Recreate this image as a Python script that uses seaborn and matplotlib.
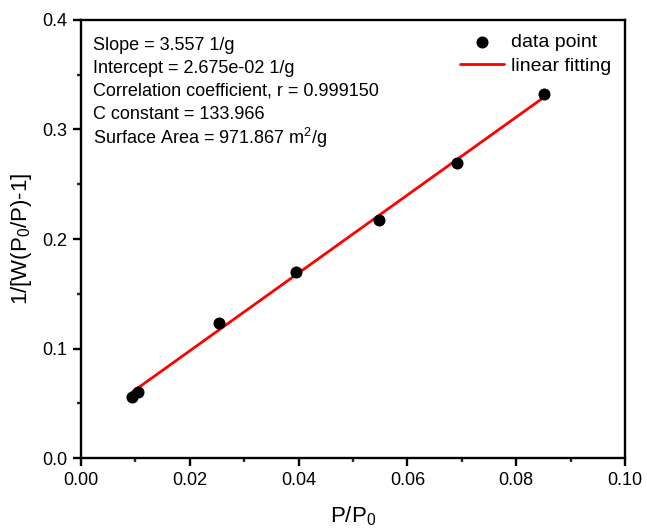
import matplotlib
matplotlib.use("Agg")
import matplotlib.pyplot as plt
import seaborn as sns
import numpy as np
import pandas as pd
from matplotlib.ticker import MultipleLocator

# data
p_rel = [0.00937, 0.0105, 0.0254, 0.0395, 0.0548, 0.0691, 0.0851]
bet_y = [0.0557, 0.0605, 0.1235, 0.1700, 0.2170, 0.2690, 0.3320]
slope = 3.557
intercept = 2.675e-02
info_lines = [
    "Slope = 3.557 1/g",
    "Intercept = 2.675e-02 1/g",
    "Correlation coefficient, r = 0.999150",
    "C constant = 133.966",
    "Surface Area = 971.867 m$^2$/g",
]
x_ticks = [0.00, 0.02, 0.04, 0.06, 0.08, 0.10]
y_ticks = [0.0, 0.1, 0.2, 0.3, 0.4]

sns.set_style("ticks")
plt.rcParams['font.family'] = ['Liberation Sans', 'DejaVu Sans']
plt.rcParams['mathtext.fontset'] = 'custom'
plt.rcParams['mathtext.rm'] = 'Liberation Sans'
plt.rcParams['mathtext.it'] = 'Liberation Sans'
plt.rcParams['text.color'] = 'black'
plt.rcParams['axes.labelcolor'] = 'black'

df = pd.DataFrame({"x": p_rel, "y": bet_y})
xfit = np.array([min(p_rel), max(p_rel)])
fit = pd.DataFrame({"x": xfit, "y": slope * xfit + intercept})

fig = plt.figure(figsize=(6.47, 5.29), dpi=100)
ax = fig.add_axes([0.1252, 0.1342, 0.8408, 0.8280])

sns.scatterplot(data=df, x="x", y="y", ax=ax, color="black", s=75,
                edgecolor="black", linewidth=0, label="data point", zorder=3)
sns.lineplot(data=fit, x="x", y="y", ax=ax, color="#ff0000", linewidth=2.0,
             label="linear fitting", zorder=2)

ax.set_xlim(0, 0.10)
ax.set_ylim(0, 0.4)
ax.set_xticks(x_ticks)
ax.set_xticklabels([f"{v:.2f}" for v in x_ticks])
ax.set_yticks(y_ticks)
ax.set_yticklabels([f"{v:.1f}" for v in y_ticks])
ax.xaxis.set_minor_locator(MultipleLocator(0.01))
ax.yaxis.set_minor_locator(MultipleLocator(0.05))
ax.tick_params(axis="both", which="major", direction="out", length=6, width=1.7,
               labelsize=13, colors="black", pad=4)
ax.tick_params(axis="both", which="minor", direction="out", length=3, width=1.7)
for sp in ax.spines.values():
    sp.set_visible(True)
    sp.set_linewidth(1.7)
    sp.set_color("black")

ax.set_xlabel("P/P$_0$", fontsize=16, labelpad=11)
ax.set_ylabel("1/[W(P$_0$/P)-1]", fontsize=16, labelpad=6)

for i, line in enumerate(info_lines):
    ypx = 44 + 22.75 * i
    ax.text(0.022, 1 - (ypx - 20) / 438, line, transform=ax.transAxes,
            fontsize=13, va="center_baseline", ha="left")

leg = ax.legend(loc="upper right", frameon=False, fontsize=14,
                handlelength=2.3, handletextpad=0.35, borderaxespad=0.3,
                labelspacing=0.3, markerscale=1.0)

fig.savefig("out.png", dpi=100)
